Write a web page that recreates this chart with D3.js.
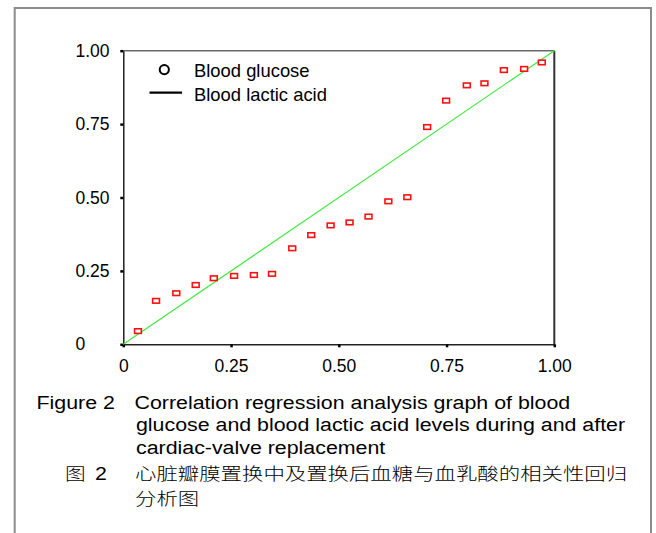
<!DOCTYPE html>
<html><head><meta charset="utf-8">
<script src="https://cdn.jsdelivr.net/npm/d3@7"></script>
<style>
html,body{margin:0;padding:0;background:#fff;}
svg{display:block;}
</style>
</head><body>
<svg id="chart" width="656" height="533"></svg>
<script>
// ---- data ----
const tickValues = [0, 0.25, 0.5, 0.75, 1];
const tickLabels = ["0", "0.25", "0.50", "0.75", "1.00"];
const glucoseX = [0.034, 0.076, 0.123, 0.168, 0.210, 0.257, 0.303, 0.345, 0.392, 0.436, 0.481,
                  0.525, 0.569, 0.615, 0.659, 0.705, 0.749, 0.797, 0.838, 0.883, 0.930, 0.971];
const glucoseY = [0.045, 0.148, 0.174, 0.202, 0.225, 0.233, 0.236, 0.240, 0.327, 0.372, 0.405,
                  0.415, 0.435, 0.487, 0.501, 0.740, 0.830, 0.882, 0.889, 0.934, 0.938, 0.960];
const lacticX = [0, 1];
const lacticY = [0, 1];
const legendLabels = ["Blood glucose", "Blood lactic acid"];
const captionEn = ["Correlation regression analysis graph of blood",
                   "glucose and blood lactic acid levels during and after",
                   "cardiac-valve replacement"];
const captionEnLabel = "Figure 2";
const captionZhLabel = ["图", "2"];
const captionZh = ["心脏瓣膜置换中及置换后血糖与血乳酸的相关性回归", "分析图"];

// ---- layout ----
const svg = d3.select("#chart");
const L = 123.3, R = 554.3, T = 50.7, B = 344.3;
const x = d3.scaleLinear().domain([0, 1]).range([L, R]);
const y = d3.scaleLinear().domain([0, 1]).range([B, T]);
const FONT = "'Liberation Sans', Arial, Helvetica, sans-serif";

// outer frame (open at bottom)
svg.append("path")
  .attr("d", `M14.7,540 V8 H651 V540`)
  .attr("fill", "none").attr("stroke", "#8c8c8c").attr("stroke-width", 2);

// top and right plot borders
svg.append("line").attr("x1", L).attr("x2", R).attr("y1", T).attr("y2", T)
  .attr("stroke", "#6a6a6a").attr("stroke-width", 1.5);
svg.append("line").attr("x1", R).attr("x2", R).attr("y1", T).attr("y2", B)
  .attr("stroke", "#333").attr("stroke-width", 2);

// y axis
const yAxis = svg.append("g").attr("transform", `translate(${L},0)`)
  .call(d3.axisLeft(y).tickValues(tickValues).tickSize(3).tickSizeOuter(0)
    .tickFormat((d, i) => tickLabels[i]));
yAxis.select(".domain").attr("stroke", "#222").attr("stroke-width", 1.5);
yAxis.selectAll(".tick line").attr("stroke", "#000").attr("stroke-width", 2.5);
yAxis.selectAll(".tick text")
  .attr("x", 75.5 - L).attr("text-anchor", "start")
  .attr("font-family", FONT).attr("font-size", "17.5px").attr("fill", "#000");

// x axis
const xAxis = svg.append("g").attr("transform", `translate(0,${B})`)
  .call(d3.axisBottom(x).tickValues(tickValues).tickSize(3).tickSizeOuter(0)
    .tickFormat((d, i) => tickLabels[i]));
xAxis.select(".domain").attr("stroke", "#222").attr("stroke-width", 1.5);
xAxis.selectAll(".tick line").attr("stroke", "#000").attr("stroke-width", 2.5);
xAxis.selectAll(".tick text")
  .attr("y", 27.4).attr("dy", null)
  .attr("font-family", FONT).attr("font-size", "17.5px").attr("fill", "#000");

// regression line (blood lactic acid)
const lineData = lacticX.map((v, i) => [v, lacticY[i]]);
svg.append("path")
  .datum(lineData)
  .attr("d", d3.line().x(d => x(d[0])).y(d => y(d[1])))
  .attr("fill", "none").attr("stroke", "#40ea40").attr("stroke-width", 1.2);

// glucose markers
const pts = glucoseX.map((v, i) => [v, glucoseY[i]]);
svg.append("g").selectAll("rect").data(pts).join("rect")
  .attr("x", d => x(d[0]) - 3.4).attr("y", d => y(d[1]) - 2.3)
  .attr("width", 6.8).attr("height", 4.6)
  .attr("fill", "#fff").attr("stroke", "#ff1010").attr("stroke-width", 1.6);

// legend
const lg = svg.append("g");
lg.append("circle").attr("cx", 164.3).attr("cy", 69.6).attr("r", 4.6)
  .attr("fill", "none").attr("stroke", "#000").attr("stroke-width", 2);
lg.append("line").attr("x1", 149.5).attr("x2", 182).attr("y1", 92.7).attr("y2", 92.7)
  .attr("stroke", "#000").attr("stroke-width", 2.2);
lg.selectAll("text").data(legendLabels).join("text")
  .attr("x", 194).attr("y", (d, i) => 77.3 + i * 24)
  .attr("font-family", FONT).attr("font-size", "18.4px").attr("fill", "#000")
  .text(d => d);

// caption
const SX = 1.2;
const cap = svg.append("g").attr("font-family", FONT).attr("fill", "#000");
cap.append("text").attr("transform", `translate(36.5,409) scale(${SX},1)`)
  .attr("font-size", "17.8px").text(captionEnLabel);
const enText = cap.append("text")
  .attr("transform", `translate(134.5,409) scale(${SX},1)`)
  .attr("font-size", "17.8px");
enText.selectAll("tspan").data(captionEn).join("tspan")
  .attr("x", (d, i) => i === 0 ? 0 : 1.25).attr("y", (d, i) => i * 22.5)
  .text(d => d);
const ZHF = "'Noto Sans CJK SC', 'Noto Sans CJK JP', sans-serif";
cap.append("text").attr("transform", `translate(65,480) scale(1.2,1)`)
  .attr("font-family", ZHF).attr("font-weight", 300).attr("font-size", "17.2px")
  .text(captionZhLabel[0]);
cap.append("text").attr("transform", `translate(95,480) scale(${SX},1)`)
  .attr("font-size", "17.8px").text(captionZhLabel[1]);
cap.selectAll("text.zh").data(captionZh).join("text").attr("class", "zh")
  .attr("transform", (d, i) => `translate(135,${480 + i * 25.2}) scale(1.245,1)`)
  .attr("font-family", ZHF).attr("font-weight", 300).attr("font-size", "17.2px")
  .text(d => d);
</script>
</body></html>
